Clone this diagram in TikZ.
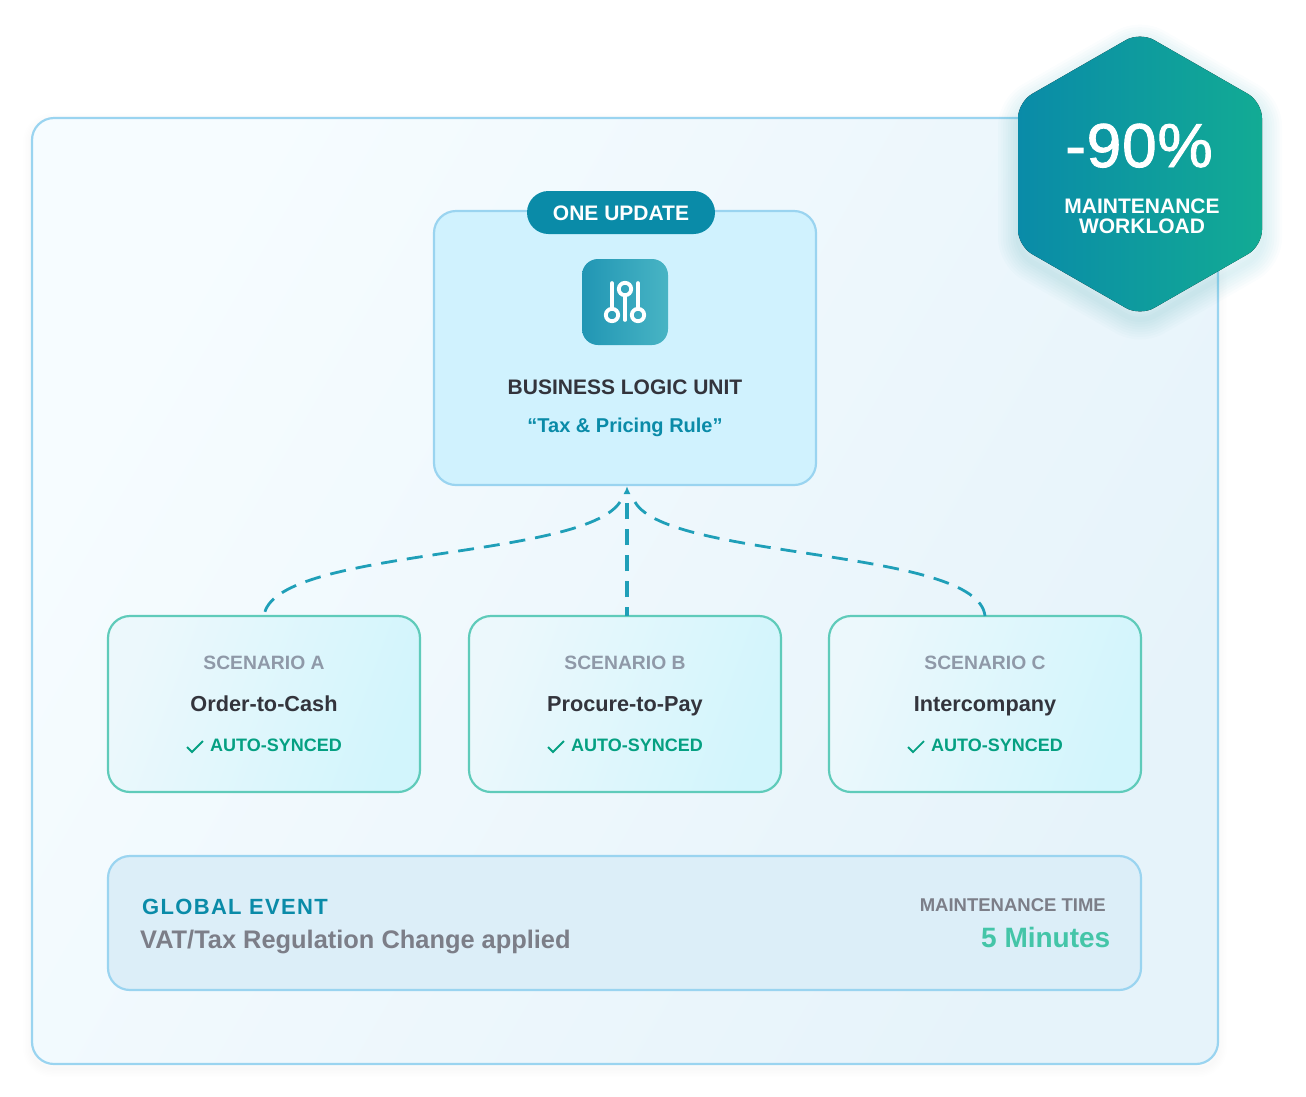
\documentclass[tikz,border=0pt]{standalone}
\usepackage{fontspec}
\setmainfont{Liberation Sans}
\newfontfamily\spacedfont[LetterSpace=6]{Liberation Sans}
\newfontfamily\heavyfont[FakeBold=1.5,LetterSpace=1.5]{Liberation Sans}
\usetikzlibrary{arrows.meta,positioning,calc}
\definecolor{logicTeal}{RGB}{10,139,168}
\definecolor{logicGreen}{RGB}{18,171,148}
\definecolor{logicLine}{RGB}{154,212,240}
\definecolor{logicPale}{RGB}{208,242,254}
\definecolor{logicDash}{RGB}{31,159,184}
\definecolor{iconLeft}{RGB}{33,150,180}
\definecolor{iconRight}{RGB}{72,180,196}
\definecolor{cardLeft}{RGB}{246,252,255}
\definecolor{cardRight}{RGB}{230,243,250}
\definecolor{scenLeft}{RGB}{236,248,252}
\definecolor{scenRight}{RGB}{210,245,252}
\definecolor{scenLine}{RGB}{95,203,186}
\definecolor{scenGrey}{RGB}{143,153,168}
\definecolor{scenDark}{RGB}{51,52,60}
\definecolor{scenSync}{RGB}{5,160,130}
\definecolor{eventFill}{RGB}{220,238,248}
\definecolor{eventGrey}{RGB}{124,126,136}
\definecolor{eventMint}{RGB}{68,197,168}
\tikzset{
  panelbox/.style={rectangle, rounded corners=22pt, inner sep=0pt, outer sep=0pt, line width=2.2pt},
  scenbox/.style={panelbox, draw=scenLine, left color=scenLeft, right color=scenRight,
        shading angle=70, minimum width=312pt, minimum height=176pt},
  scenlabel/.style={anchor=base, inner sep=0pt, text=scenGrey, font=\fontsize{19.3}{22}\selectfont\bfseries},
  scentitle/.style={anchor=base, inner sep=0pt, text=scenDark, font=\fontsize{21.7}{24}\selectfont\bfseries},
  scensync/.style={anchor=base, inner sep=0pt, text=scenSync, font=\fontsize{18}{22}\selectfont\bfseries},
  linkline/.style={draw=logicDash, line width=2.8pt, dash pattern=on 16pt off 10pt},
  checkmark/.pic={\draw[scenSync, line width=1.8pt] (-8,1) -- (-3,6) -- (8,-5);}
}
\begin{document}
\begin{tikzpicture}[x=1pt, y=-1pt]
  \useasboundingbox (0,0) rectangle (1306,1096);
  \foreach \w in {3,6,...,18}
    \draw[black, draw opacity=0.004, line width=\w pt, rounded corners=20pt] (32,122) rectangle (1218,1068);
  \node[panelbox, draw=logicLine, left color=cardLeft, right color=cardRight, shading angle=60,
        minimum width=1186pt, minimum height=946pt] (card) at (625,591) {};

  \node[panelbox, draw=logicLine, fill=logicPale, minimum width=382pt, minimum height=274pt] (unit) at (625,348) {};
  \node[rectangle, rounded corners=21.5pt, fill=logicTeal, minimum width=188pt, minimum height=43pt, inner sep=0pt] (badge) at (621,212.5) {};
  \node[inner sep=0pt, text=white, font=\fontsize{21}{24}\selectfont\bfseries] (badgetext) at (621,213) {ONE UPDATE};

  \node[rectangle, rounded corners=16pt, left color=iconLeft, right color=iconRight,
        minimum width=86pt, minimum height=86pt, inner sep=0pt] (icon) at (625,302) {};
  \draw[white, line width=3.6pt, line cap=round] (612,283) -- (612,309) (625,295) -- (625,320) (638,283) -- (638,309);
  \draw[white, line width=3.8pt] (612,315) circle (6.2pt) (625,289) circle (6.2pt) (638,315) circle (6.2pt);

  \node[anchor=base, inner sep=0pt, text=scenDark, font=\fontsize{21}{24}\selectfont\bfseries] (unitname) at (625,394) {BUSINESS LOGIC UNIT};
  \node[anchor=base, inner sep=0pt, text=logicTeal, font=\fontsize{20}{24}\selectfont\bfseries] (unitrule) at (625,432) {``Tax \& Pricing Rule''};

  \node[scenbox] (scenA) at (264,704) {};
  \node[scenbox] (scenB) at (625,704) {};
  \node[scenbox] (scenC) at (985,704) {};

  \node[scenlabel] (labelA) at (264,669) {SCENARIO A};
  \node[scentitle] (titleA) at (264,711) {Order-to-Cash};
  \node[scensync] (syncA) at (276,751) {AUTO-SYNCED};
  \pic at (195,746) {checkmark};

  \node[scenlabel] (labelB) at (625,669) {SCENARIO B};
  \node[scentitle] (titleB) at (625,711) {Procure-to-Pay};
  \node[scensync] (syncB) at (637,751) {AUTO-SYNCED};
  \pic at (556,746) {checkmark};

  \node[scenlabel] (labelC) at (985,669) {SCENARIO C};
  \node[scentitle] (titleC) at (985,711) {Intercompany};
  \node[scensync] (syncC) at (997,751) {AUTO-SYNCED};
  \pic at (916,746) {checkmark};

  \coordinate (tip) at (627,486);
  \coordinate (tipA) at (620,502);
  \coordinate (tipC) at (635,502);
  \draw[linkline] (tipA) .. controls (582,560) and (272,548) .. (scenA.north);
  \draw[linkline, line width=3.4pt, dash phase=7pt, -{Latex[length=8pt,width=7pt]}] (scenB.north -| tip) -- (tip);
  \draw[linkline] (tipC) .. controls (668,560) and (978,548) .. (scenC.north);

  \node[panelbox, draw=logicLine, fill=eventFill, minimum width=1033pt, minimum height=134pt] (event) at (624.5,923) {};
  \node[anchor=base west, inner sep=0pt, text=logicTeal, font=\fontsize{22}{26}\selectfont\spacedfont\bfseries] (eventname) at (142,914.5) {GLOBAL EVENT};
  \node[anchor=base west, inner sep=0pt, text=eventGrey, font=\fontsize{25.4}{30}\selectfont\bfseries] (eventtext) at (140,948) {VAT/Tax Regulation Change applied};
  \node[anchor=base east, inner sep=0pt, text=eventGrey, font=\fontsize{18.5}{22}\selectfont\bfseries] (timename) at (1106,911) {MAINTENANCE TIME};
  \node[anchor=base east, inner sep=0pt, text=eventMint, font=\fontsize{28}{32}\selectfont\bfseries] (timetext) at (1110.5,947.5) {5 Minutes};

  \begin{scope}[yshift=-8pt]
  \foreach \w in {5,10,...,40}
    \draw[logicDash, draw opacity=0.02, line width=\w pt, line join=round, rounded corners=16pt]
      (1140,32) -- (1262,102) -- (1262,246) -- (1140,316) -- (1018,246) -- (1018,102) -- cycle;
  \end{scope}
  \fill[left color=logicTeal, right color=logicGreen, rounded corners=16pt]
      (1140,32) -- (1262,102) -- (1262,246) -- (1140,316) -- (1018,246) -- (1018,102) -- cycle;
  \node[anchor=base, inner sep=0pt, text=white, font=\fontsize{62}{70}\selectfont\heavyfont] (percent) at (1139,167) {-90\%};
  \node[anchor=base, inner sep=0pt, text=white, font=\fontsize{21}{24}\selectfont\bfseries] (loadtop) at (1142,213) {MAINTENANCE};
  \node[anchor=base, inner sep=0pt, text=white, font=\fontsize{21}{24}\selectfont\bfseries] (loadbottom) at (1142,233.5) {WORKLOAD};
\end{tikzpicture}
\end{document}
